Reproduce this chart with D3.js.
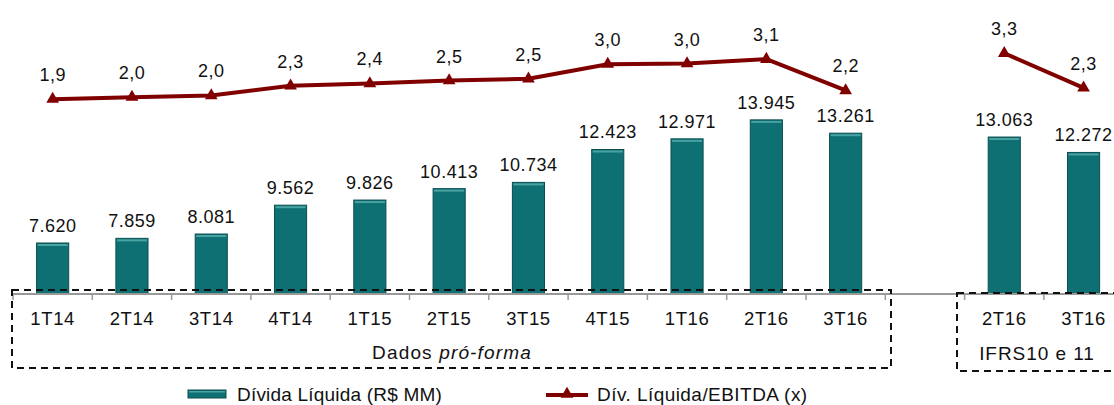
<!DOCTYPE html>
<html><head><meta charset="utf-8">
<script src="https://cdn.jsdelivr.net/npm/d3@7/dist/d3.min.js"></script>
<style>
body{margin:0;background:#fff;}
svg text{font-family:"Liberation Sans",Arial,sans-serif;fill:#111;}
</style></head>
<body><svg id="c" width="1114" height="405"></svg>
<script>
// ---- data ----
const proFormaQuarters = ["1T14","2T14","3T14","4T14","1T15","2T15","3T15","4T15","1T16","2T16","3T16"];
const ifrsQuarters = ["2T16","3T16"];
const debtProForma = [7620,7859,8081,9562,9826,10413,10734,12423,12971,13945,13261];
const debtIFRS = [13063,12272];
const ratioProForma = [1.92,1.98,2.03,2.32,2.39,2.48,2.53,2.97,2.99,3.12,2.18];
const ratioIFRS = [3.30,2.26];
const groupLabels = ["Dados ", "pró-forma", "IFRS10 e 11"];
const legendLabels = ["Dívida Líquida (R$ MM)", "Dív. Líquida/EBITDA (x)"];

// ---- build slots ----
const pf = proFormaQuarters.map((q,i)=>({id:"pf"+i, label:q, debt:debtProForma[i], ratio:ratioProForma[i]}));
const ifrs = ifrsQuarters.map((q,i)=>({id:"if"+i, label:q, debt:debtIFRS[i], ratio:ratioIFRS[i]}));
const slots = [...pf.map(d=>d.id), "gap", ...ifrs.map(d=>d.id)];
const all = [...pf, ...ifrs];

const svg = d3.select("#c");
const axisY = 294;
const x = d3.scaleBand().domain(slots).range([13, 13 + 14*79.3]);
const y = d3.scaleLinear().domain([5000, 20000]).range([axisY, 2]);
const y2 = d3.scaleLinear().domain([0, 4.9]).range([163, 0]);
const cx = id => x(id) + x.bandwidth()/2;
const bw = x.bandwidth()*0.405;

// bars
const g = svg.append("g");
const bars = g.selectAll("g.bar").data(all).enter().append("g");
bars.append("rect")
  .attr("x", d=>cx(d.id)-bw/2).attr("y", d=>y(d.debt))
  .attr("width", bw).attr("height", d=>axisY - y(d.debt))
  .attr("fill", "#0e7073").attr("stroke", "#0a4e50").attr("stroke-width", 1);
bars.append("rect")
  .attr("x", d=>cx(d.id)-bw/2+1).attr("y", d=>y(d.debt)+1)
  .attr("width", bw-2).attr("height", 2)
  .attr("fill", "#4aa3a3");
bars.append("text")
  .attr("x", d=>cx(d.id)).attr("y", d=>y(d.debt)-11)
  .attr("text-anchor","middle").attr("font-size", 18).attr("letter-spacing", 0.5)
  .text(d=>d3.format(",")(d.debt).replace(/,/g,"."));

// axis line and ticks
svg.append("line").attr("x1", 12).attr("x2", 1114).attr("y1", axisY).attr("y2", axisY)
  .attr("stroke", "#999").attr("stroke-width", 2);
const bounds = slots.map(s=>x(s)).concat([x.range()[1]]);
svg.selectAll("line.tick").data(bounds).enter().append("line")
  .attr("x1", d=>d).attr("x2", d=>d).attr("y1", axisY).attr("y2", axisY+6)
  .attr("stroke", "#999").attr("stroke-width", 1.5);

// category labels
svg.selectAll("text.cat").data(all).enter().append("text")
  .attr("x", d=>cx(d.id)).attr("y", 325)
  .attr("text-anchor","middle").attr("font-size", 18.5).attr("letter-spacing", 0.6)
  .text(d=>d.label);

// dashed boxes
svg.append("rect").attr("x", 12).attr("y", 290).attr("width", 879).attr("height", 78)
  .attr("fill","none").attr("stroke","#111").attr("stroke-width",2).attr("stroke-dasharray","7,5");
svg.append("rect").attr("x", 957).attr("y", 293).attr("width", 170).attr("height", 78)
  .attr("fill","none").attr("stroke","#111").attr("stroke-width",2).attr("stroke-dasharray","7,5");

const t1 = svg.append("text").attr("x", 452).attr("y", 359).attr("text-anchor","middle")
  .attr("font-size", 19).attr("letter-spacing", 1.15);
t1.append("tspan").text(groupLabels[0]);
t1.append("tspan").attr("font-style","italic").text(groupLabels[1]);
svg.append("text").attr("x", 1037).attr("y", 360).attr("text-anchor","middle")
  .attr("font-size", 19).attr("letter-spacing", 0.95).text(groupLabels[2]);

// line series
const lineColor = "#800000";
const line = d3.line().x(d=>cx(d.id)).y(d=>y2(d.ratio));
const tri = d3.symbol().type(d3.symbolTriangle).size(70);
[pf, ifrs].forEach(series=>{
  svg.append("path").datum(series).attr("d", line).attr("fill","none")
    .attr("stroke", lineColor).attr("stroke-width", 4).attr("stroke-linejoin","round");
  svg.selectAll(null).data(series).enter().append("path")
    .attr("d", tri).attr("transform", d=>`translate(${cx(d.id)},${y2(d.ratio)})`)
    .attr("fill", lineColor);
  svg.selectAll(null).data(series).enter().append("text")
    .attr("x", d=>cx(d.id)).attr("y", d=>y2(d.ratio)-18)
    .attr("text-anchor","middle").attr("font-size", 18).attr("letter-spacing", 0.5)
    .text(d=>d.ratio.toFixed(1).replace(".",","));
});

// legend
svg.append("rect").attr("x", 188).attr("y", 390).attr("width", 38).attr("height", 8)
  .attr("fill", "#0e7073").attr("stroke", "#0a4e50").attr("stroke-width", 1);
svg.append("rect").attr("x", 189).attr("y", 391).attr("width", 36).attr("height", 1.5).attr("fill", "#4aa3a3");
svg.append("text").attr("x", 237).attr("y", 401).attr("font-size", 19).attr("letter-spacing", 0.2).text(legendLabels[0]);
svg.append("line").attr("x1", 546).attr("x2", 588).attr("y1", 395).attr("y2", 395)
  .attr("stroke", lineColor).attr("stroke-width", 4);
svg.append("path").attr("d", tri).attr("transform", "translate(567,394)").attr("fill", lineColor);
svg.append("text").attr("x", 597).attr("y", 401).attr("font-size", 19).attr("letter-spacing", 0.45).text(legendLabels[1]);
</script></body></html>
